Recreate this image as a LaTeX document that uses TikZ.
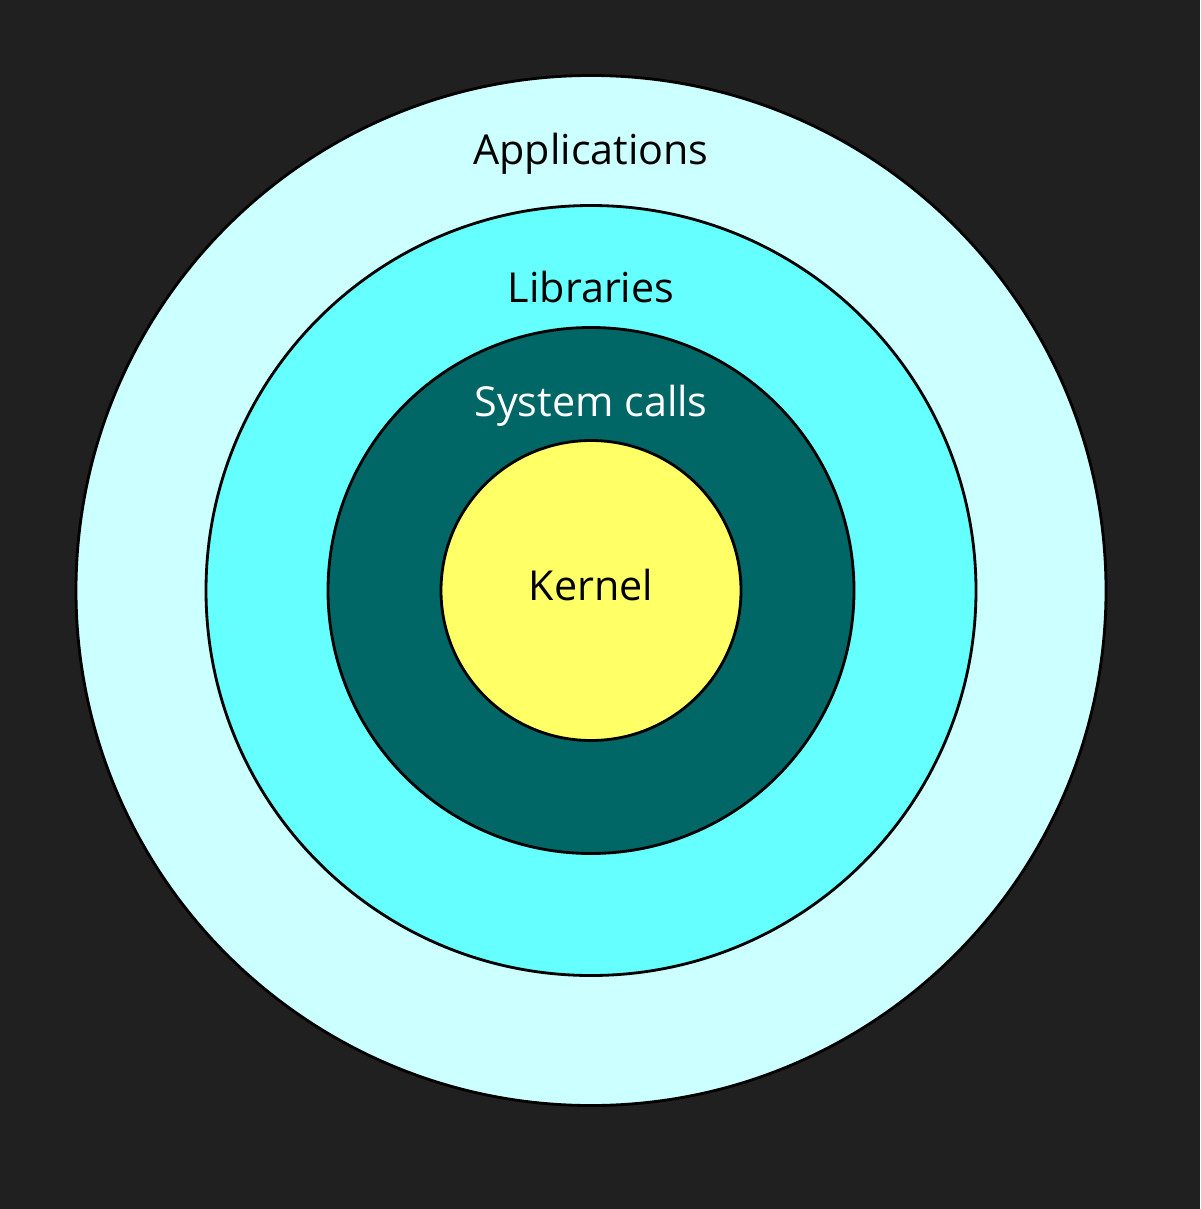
\documentclass[tikz,border=0pt]{standalone}
\usepackage{fontspec}
\setmainfont{Open Sans}
\definecolor{bgc}{HTML}{202020}
\definecolor{appc}{HTML}{CCFFFF}
\definecolor{libc}{HTML}{66FFFF}
\definecolor{sysc}{HTML}{006666}
\definecolor{kerc}{HTML}{FFFF66}
\begin{document}
\begin{tikzpicture}[x=0.02cm,y=-0.02cm,
  ring/.style={circle,draw=black,line width=1.6pt,inner sep=0pt},
  lbl/.style={anchor=base,font=\fontsize{23.5}{26}\selectfont,inner sep=0pt}]
\fill[bgc] (0,0) rectangle (1200,1209);
\useasboundingbox (0,0) rectangle (1200,1209);
\coordinate (c) at (591,590.5);
\node[ring,fill=appc,minimum size=1030*0.02cm] (app) at (c) {};
\node[ring,fill=libc,minimum size=770*0.02cm] (lib) at (c) {};
\node[ring,fill=sysc,minimum size=526*0.02cm] (sys) at (c) {};
\node[ring,fill=kerc,minimum size=300*0.02cm] (ker) at (c) {};
\node[lbl,text=black] (tapp) at (591,165) {Applications};
\node[lbl,text=black] (tlib) at (591,302) {Libraries};
\node[lbl,text=white] (tsys) at (591,416) {System calls};
\node[lbl,text=black] (tker) at (591,600) {Kernel};
\end{tikzpicture}
\end{document}
